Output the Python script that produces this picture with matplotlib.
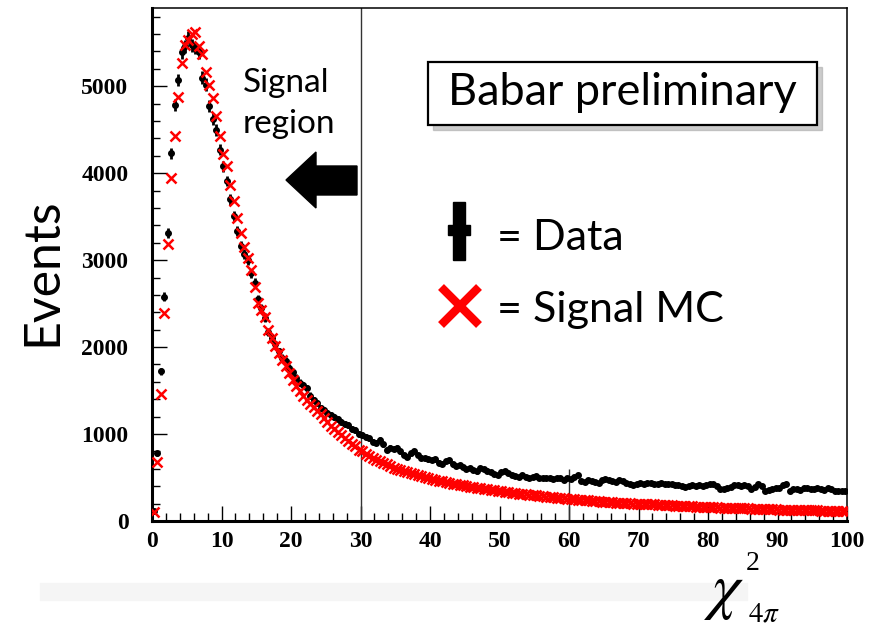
# chi2 distribution, data vs signal MC
import numpy as np
import matplotlib
matplotlib.use('Agg')
import matplotlib.pyplot as plt
from matplotlib.patches import Rectangle, Polygon
from matplotlib.ticker import MultipleLocator

# 200 bins of 0.5 between 0 and 100
bin_edges = np.linspace(0, 100, 201)
bin_centers = 0.5 * (bin_edges[:-1] + bin_edges[1:])

# data events per bin (10 bins per row = 5 units of chi2)
data_counts = [
    120, 780, 1720, 2580, 3310, 4230, 4780, 5070, 5390, 5460,
    5560, 5470, 5440, 5390, 5100, 5020, 4770, 4620, 4500, 4270,
    4080, 3910, 3700, 3510, 3340, 3160, 3070, 3000, 2850, 2740,
    2550, 2450, 2340, 2170, 2110, 2030, 1950, 1880, 1840, 1760,
    1710, 1650, 1590, 1560, 1530, 1440, 1390, 1360, 1300, 1280,
    1240, 1220, 1200, 1170, 1140, 1120, 1100, 1060, 1050, 1000,
    990, 970, 950, 910, 900, 930, 880, 820, 840, 830,
    840, 800, 760, 740, 780, 800, 760, 730, 720, 710,
    700, 710, 670, 660, 690, 700, 650, 630, 640, 620,
    600, 610, 590, 570, 610, 600, 580, 560, 540, 530,
    560, 570, 550, 530, 520, 510, 530, 510, 500, 510,
    520, 500, 490, 500, 490, 480, 500, 490, 470, 500,
    480, 510, 530, 460, 450, 470, 460, 450, 440, 470,
    480, 470, 460, 450, 470, 460, 440, 430, 415, 430,
    440, 420, 435, 440, 430, 420, 435, 430, 425, 420,
    415, 410, 405, 395, 400, 410, 405, 415, 400, 410,
    420, 430, 400, 365, 370, 380, 395, 415, 410, 400,
    415, 405, 370, 390, 425, 400, 350, 355, 365, 375,
    385, 410, 420, 340, 365, 370, 360, 375, 380, 365,
    370, 380, 365, 355, 375, 370, 345, 350, 340, 345,
]

# signal MC per bin
mc_counts = [
    100, 680, 1460, 2390, 3190, 3940, 4430, 4880, 5270, 5470,
    5530, 5600, 5620, 5460, 5370, 5160, 5020, 4860, 4660, 4430,
    4220, 4080, 3870, 3680, 3490, 3310, 3150, 3020, 2890, 2690,
    2510, 2430, 2350, 2200, 2100, 2010, 1930, 1855, 1780, 1705,
    1620, 1550, 1490, 1440, 1390, 1350, 1310, 1270, 1230, 1190,
    1140, 1090, 1060, 1020, 990, 950, 920, 890, 860, 820,
    800, 775, 750, 730, 705, 685, 665, 650, 630, 615,
    600, 585, 575, 560, 550, 540, 525, 515, 505, 495,
    485, 475, 465, 455, 445, 435, 430, 422, 415, 410,
    402, 395, 388, 380, 375, 370, 364, 358, 354, 350,
    344, 338, 332, 326, 320, 316, 310, 306, 302, 298,
    294, 290, 285, 281, 276, 272, 268, 265, 262, 258,
    255, 252, 246, 244, 240, 237, 232, 230, 227, 222,
    220, 218, 213, 212, 209, 207, 206, 202, 201, 199,
    199, 196, 195, 191, 190, 189, 185, 184, 183, 179,
    178, 177, 173, 172, 171, 167, 166, 166, 162, 162,
    160, 157, 158, 154, 154, 151, 152, 148, 149, 145,
    145, 144, 141, 141, 138, 139, 136, 137, 133, 134,
    131, 132, 129, 130, 127, 128, 125, 126, 123, 124,
    121, 122, 119, 120, 117, 118, 116, 116, 114, 115,
]

data_counts = np.array(data_counts, dtype=float)
mc_counts = np.array(mc_counts, dtype=float)

W, H = 876, 630


def fx(px):
    return px / W


def fy(py):
    return 1 - py / H


fig = plt.figure(figsize=(W / 100, H / 100), dpi=100)
fig.patch.set_facecolor('white')

# faint band behind the x label
fig.patches.append(Rectangle((fx(40), fy(600)), fx(747) - fx(40), fy(583) - fy(600),
                             transform=fig.transFigure, color='#f5f5f5', zorder=0))

ax = fig.add_axes([fx(152), fy(521), fx(847) - fx(152), fy(8) - fy(521)])

ax.errorbar(bin_centers, data_counts, yerr=np.sqrt(data_counts), xerr=0.25,
            fmt='o', color='black', markersize=4, elinewidth=2, capsize=0, zorder=3)
ax.plot(bin_centers, mc_counts, 'x', color='#ff0000', markersize=7, mew=1.8, zorder=4)

ax.axvline(30, color='#333333', lw=1, zorder=2)
ax.vlines(60, 0, 600, color='#333333', lw=1, zorder=2)

ax.set_xlim(0, 100)
ax.set_ylim(0, 5900)
ax.xaxis.set_major_locator(MultipleLocator(10))
ax.xaxis.set_minor_locator(MultipleLocator(2))
ax.yaxis.set_major_locator(MultipleLocator(1000))
ax.yaxis.set_minor_locator(MultipleLocator(200))
ax.tick_params(which='both', direction='in', top=False, right=False, width=1)
ax.tick_params(which='major', length=11)
ax.tick_params(which='minor', length=6)
ax.tick_params(axis='y', pad=17)
ax.tick_params(axis='x', pad=7)
for lab in ax.get_xticklabels() + ax.get_yticklabels():
    lab.set_fontfamily('Liberation Serif')
    lab.set_fontweight('bold')
    lab.set_fontsize(17)

ax.spines['left'].set_linewidth(2.2)
ax.spines['bottom'].set_linewidth(2.2)
ax.spines['top'].set_linewidth(1.1)
ax.spines['right'].set_linewidth(1.1)

sans = 'Lato'

fig.text(fx(42), fy(272), 'Events', rotation=90, ha='center', va='center',
         fontsize=36, family=sans)

# "Babar preliminary" box with shadow
fig.patches.append(Rectangle((fx(433), fy(130)), fx(817) - fx(428), fy(62) - fy(125),
                             transform=fig.transFigure, color='#aaaaaa', alpha=0.6, zorder=5))
fig.patches.append(Rectangle((fx(428), fy(125)), fx(817) - fx(428), fy(62) - fy(125),
                             transform=fig.transFigure, facecolor='white', edgecolor='black',
                             lw=1.6, zorder=6))
fig.text(fx(448), fy(105), 'Babar preliminary', ha='left', va='baseline',
         fontsize=32.5, family=sans, zorder=7)

# signal region label and arrow
fig.text(fx(243), fy(92), 'Signal', ha='left', va='baseline', fontsize=24, family=sans)
fig.text(fx(243), fy(133), 'region', ha='left', va='baseline', fontsize=24, family=sans)
arrow_px = [(286, 180), (316, 152), (316, 166), (357, 166),
            (357, 195), (316, 195), (316, 208)]
fig.patches.append(Polygon([(fx(x), fy(y)) for x, y in arrow_px], closed=True,
                           transform=fig.transFigure, color='black', zorder=5))

# hand drawn legend
fig.patches.append(Rectangle((fx(453), fy(260)), fx(465) - fx(453), fy(202) - fy(260),
                             transform=fig.transFigure, color='black', zorder=5))
fig.patches.append(Rectangle((fx(448), fy(235)), fx(470) - fx(448), fy(225) - fy(235),
                             transform=fig.transFigure, color='black', zorder=5))
fig.text(fx(497), fy(250), '= Data', ha='left', va='baseline', fontsize=31, family=sans)
fig.lines.append(plt.Line2D([fx(460)], [fy(306)], marker='x', color='#ff0000',
                            markersize=28, mew=6, transform=fig.transFigure))
fig.text(fx(497), fy(322), '= Signal MC', ha='left', va='baseline', fontsize=31, family=sans)

# x axis title
plt.rcParams['mathtext.fontset'] = 'stix'
fig.text(fx(704), fy(607), r'$\chi$', ha='left', va='baseline', fontsize=46)
fig.text(fx(746), fy(570), '2', ha='left', va='baseline', fontsize=20, family='Liberation Serif')
fig.text(fx(748), fy(621), r'$4\pi$', ha='left', va='baseline', fontsize=21)

fig.savefig('out.png', dpi=100)
